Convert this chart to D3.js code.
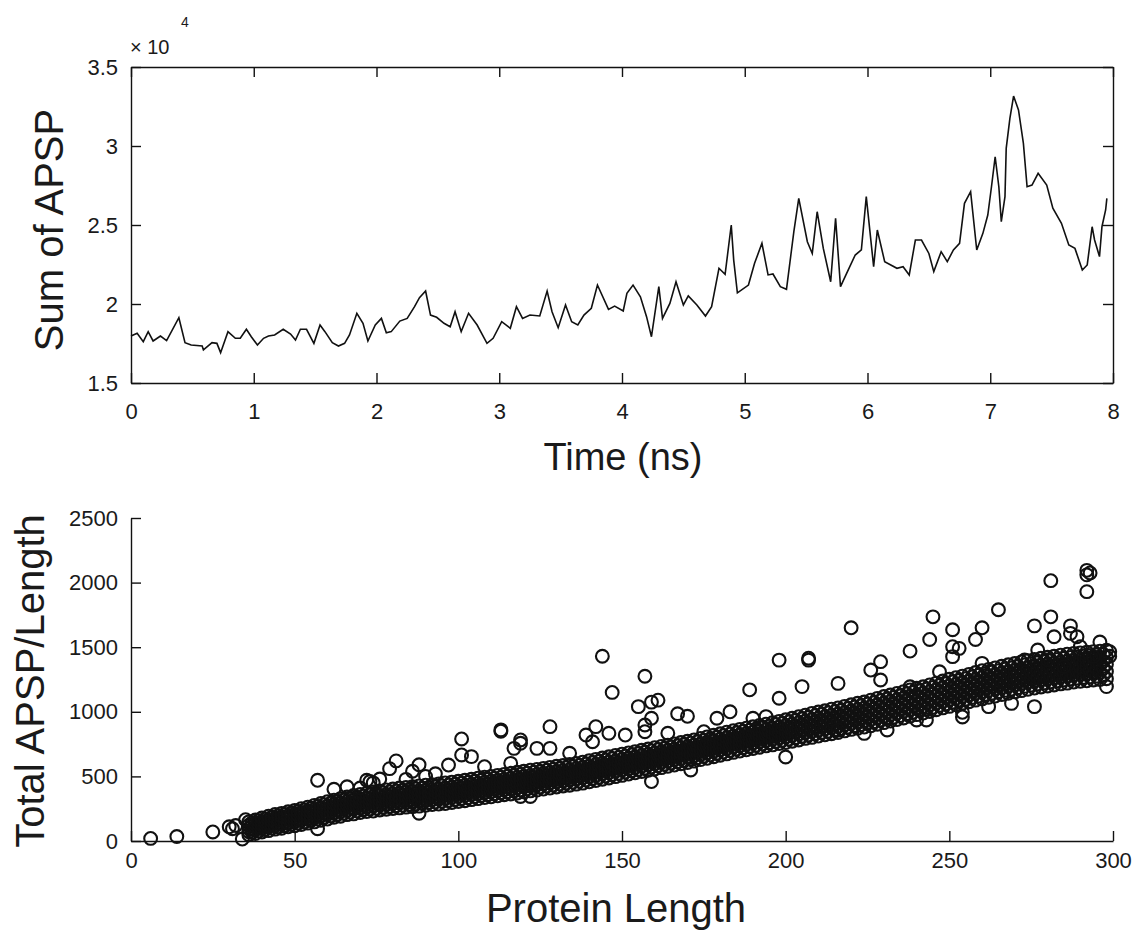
<!DOCTYPE html>
<html>
<head>
<meta charset="utf-8">
<script src="https://cdn.jsdelivr.net/npm/d3@7"></script>
<style>
body { margin: 0; background: #fff; }
text { font-family: "Liberation Sans", Arial, sans-serif; fill: #1a1a1a; }
</style>
</head>
<body>
<div class="chart"></div>
<script>
// top panel: sum of APSP over time
const timeNs = [0.00,0.05,0.10,0.14,0.18,0.24,0.29,0.39,0.44,0.49,0.58,0.59,0.66,0.70,0.73,0.79,0.85,0.89,0.94,0.98,
  1.03,1.08,1.12,1.17,1.24,1.30,1.34,1.38,1.43,1.49,1.54,1.58,1.64,1.69,1.74,1.78,1.84,1.89,1.93,1.99,
  2.04,2.08,2.12,2.19,2.25,2.31,2.35,2.40,2.44,2.49,2.55,2.60,2.64,2.69,2.75,2.82,2.90,2.95,3.02,3.09,
  3.14,3.19,3.25,3.33,3.39,3.43,3.48,3.54,3.59,3.64,3.69,3.75,3.80,3.89,3.94,4.01,4.04,4.09,4.15,4.20,
  4.24,4.30,4.33,4.39,4.44,4.50,4.54,4.61,4.68,4.73,4.79,4.84,4.89,4.91,4.94,5.03,5.08,5.14,5.19,5.23,
  5.29,5.34,5.40,5.44,5.51,5.55,5.59,5.64,5.70,5.74,5.78,5.83,5.90,5.95,5.99,6.05,6.08,6.14,6.24,6.29,
  6.34,6.39,6.44,6.50,6.54,6.60,6.65,6.70,6.75,6.79,6.84,6.89,6.94,6.98,7.01,7.04,7.07,7.09,7.12,7.13,
  7.16,7.19,7.23,7.27,7.30,7.34,7.39,7.46,7.51,7.58,7.64,7.69,7.75,7.79,7.83,7.85,7.89,7.91,7.94,7.95];
const apspSum = [17970,18150,17620,18250,17660,17970,17680,19130,17550,17400,17340,17090,17550,17510,16920,18250,17830,17830,18400,17930,
  17400,17830,17970,18040,18400,18100,17720,18400,18400,17510,18670,18250,17550,17340,17510,18040,19410,18780,17660,18670,
  19090,18180,18250,18920,19090,19830,20400,20820,19300,19160,18780,18560,19510,18250,19410,18670,17510,17830,18880,18460,
  19830,19090,19300,19240,20820,19510,18500,19940,18880,18670,19300,19730,21200,19660,19870,19560,20680,21200,20460,19200,
  17930,21100,19090,20040,21410,19940,20510,19940,19240,19830,22260,21880,25000,22780,20710,21200,22580,23840,21840,21900,
  21100,20930,24580,26690,23940,23200,25840,23520,21410,25420,21100,21940,23100,23420,26800,22360,24680,22680,22260,22360,
  21840,24050,24050,23200,22050,23310,22680,23420,23840,26370,27110,23420,24470,25630,27420,29320,27420,25210,26800,29850,
  31750,33160,32280,30170,27420,27530,28270,27530,26060,25110,23730,23520,22150,22470,24890,24050,23000,24890,25950,26690];
const timeTicks = [0, 1, 2, 3, 4, 5, 6, 7, 8];
const sumTicks = [15000, 20000, 25000, 30000, 35000];

// bottom panel: total APSP / length against protein length
// dense band, one row per protein length: [length, values...]
const bandColumns = [
  [36,48,72,96,122,148],[37,66,91,117,142],[38,58,88,110,136,162],[39,77,104,130,157],
  [40,70,96,124,150,178],[41,89,116,144,171],[42,80,110,136,164,192],[43,100,128,156,184],
  [44,92,118,150,176,205],[45,109,138,167,195],[46,98,130,158,188,214],[47,118,148,177,206],
  [48,110,138,172,196,226],[49,129,158,187,216],[50,118,150,178,208,236],[51,138,168,198,228],
  [52,128,158,192,220,250],[53,148,179,210,241],[54,138,172,202,232,262],[55,159,190,222,253],
  [56,148,180,216,244,276],[57,170,202,235,267],[58,160,194,226,258,290],[59,182,215,248,281],
  [60,170,206,240,270,304],[61,194,227,260,293],[62,184,216,254,284,316],[63,205,238,272,305],
  [64,192,228,262,296,328],[65,215,249,283,317],[66,204,236,276,306,340],[67,224,259,294,329],
  [68,210,248,282,318,352],[69,233,268,303,338],[70,220,254,292,326,360],[71,242,277,312,347],
  [72,228,262,300,336,370],[73,248,284,321,357],[74,232,272,310,344,380],[75,254,291,328,365],
  [76,240,278,316,352,388],[77,262,299,336,373],[78,246,282,322,360,396],[79,268,305,343,380],
  [80,252,290,330,366,402],[81,273,311,349,387],[82,256,296,334,372,410],[83,278,316,355,393],
  [84,262,298,340,378,414],[85,283,321,360,398],[86,266,304,344,384,420],[87,287,326,365,404],
  [88,270,310,350,388,426],[89,292,331,370,409],[90,276,314,354,394,432],[91,298,337,376,415],
  [92,282,320,360,398,436],[93,303,342,381,420],[94,286,326,364,404,442],[95,308,347,387,426],
  [96,290,330,370,410,450],[97,314,354,393,433],[98,298,338,378,416,456],[99,322,361,400,439],
  [100,306,346,384,424,462],[101,329,368,407,446],[102,312,352,392,430,470],[103,336,375,415,454],
  [104,320,360,400,438,478],[105,344,383,423,462],[106,328,366,408,446,486],[107,352,391,431,470],
  [108,336,374,414,454,494],[109,359,398,438,477],[110,342,382,422,462,500],[111,366,405,445,484],
  [112,350,390,430,468,508],[113,374,413,453,492],[114,358,398,438,476,516],[115,381,420,460,500],
  [116,364,404,446,484,524],[117,388,428,468,508],[118,372,412,452,492,532],[119,396,436,476,516],
  [120,380,420,460,500,540],[121,404,444,484,524],[122,388,428,468,506,548],[123,411,451,491,531],
  [124,394,436,474,514,554],[125,418,458,498,538],[126,402,442,482,522,562],[127,426,466,506,546],
  [128,410,450,490,530,570],[129,434,474,514,554],[130,418,458,498,538,578],[131,442,482,521,561],
  [132,426,464,506,544,584],[133,449,489,528,568],[134,432,472,512,552,592],[135,456,496,536,576],
  [136,440,480,520,560,600],[137,464,504,545,585],[138,448,490,530,570,610],[139,473,514,555,596],
  [140,458,500,540,580,622],[141,484,525,566,607],[142,468,508,550,592,632],[143,494,535,576,617],
  [144,478,520,560,600,642],[145,504,545,586,627],[146,488,530,570,612,652],[147,514,555,596,637],
  [148,498,540,580,620,662],[149,524,565,606,647],[150,508,550,590,632,672],[151,534,575,616,657],
  [152,518,558,600,642,682],[153,544,585,626,667],[154,528,570,610,650,692],[155,554,595,636,677],
  [156,538,578,620,662,702],[157,564,605,646,687],[158,548,590,630,670,712],[159,574,615,656,697],
  [160,558,598,640,682,722],[161,584,625,666,707],[162,568,610,650,690,732],[163,594,635,676,717],
  [164,578,618,660,702,742],[165,604,645,686,727],[166,588,630,670,710,752],[167,614,655,696,737],
  [168,598,638,680,722,762],[169,624,665,706,747],[170,608,650,690,730,772],[171,634,675,716,757],
  [172,618,660,700,742,782],[173,645,686,727,768],[174,630,670,712,752,794],[175,656,697,738,779],
  [176,640,682,722,764,806],[177,667,708,750,791],[178,652,694,736,776,818],[179,679,720,762,803],
  [180,664,706,746,788,830],[181,690,732,774,815],[182,674,716,758,800,842],[183,701,743,785,827],
  [184,686,728,770,812,854],[185,712,754,796,838],[186,696,738,780,822,864],[187,722,764,806,848],
  [188,706,748,790,832,874],[189,732,774,816,858],[190,716,758,800,842,884],[191,742,784,826,868],
  [192,726,768,810,852,894],[193,752,794,836,878],[194,736,778,820,862,904],[195,761,804,846,889],
  [196,744,788,830,872,916],[197,771,814,857,900],[198,754,798,840,882,926],[199,780,823,867,910],
  [200,762,806,850,894,938],[201,789,833,878,922],[202,772,818,860,904,950],[203,799,844,889,934],
  [204,782,828,872,916,962],[205,811,856,901,946],[206,794,840,884,928,974],[207,821,866,912,958],
  [208,802,850,894,940,988],[209,830,877,923,970],[210,812,858,906,950,998],[211,840,887,933,980],
  [212,822,868,914,962,1008],[213,850,897,944,991],[214,830,878,924,972,1020],[215,859,906,954,1001],
  [216,840,888,936,982,1030],[217,870,917,965,1012],[218,852,898,946,994,1042],[219,882,929,977,1024],
  [220,864,912,960,1006,1054],[221,892,940,988,1036],[222,872,922,970,1018,1066],[223,901,950,998,1047],
  [224,882,930,980,1028,1076],[225,912,961,1010,1059],[226,892,942,992,1040,1090],[227,923,972,1022,1072],
  [228,904,954,1004,1054,1104],[229,935,985,1036,1086],[230,916,966,1018,1066,1118],[231,947,998,1048,1099],
  [232,928,978,1030,1080,1130],[233,959,1010,1060,1111],[234,940,990,1042,1092,1142],[235,971,1022,1073,1124],
  [236,952,1004,1054,1106,1156],[237,985,1036,1087,1138],[238,966,1016,1068,1118,1170],[239,998,1049,1100,1151],
  [240,978,1028,1080,1130,1182],[241,1010,1061,1112,1163],[242,990,1040,1092,1144,1194],[243,1022,1073,1124,1175],
  [244,1002,1054,1104,1156,1208],[245,1035,1086,1138,1189],[246,1016,1068,1120,1170,1222],[247,1049,1101,1152,1204],
  [248,1030,1082,1134,1186,1238],[249,1062,1114,1167,1219],[250,1042,1094,1148,1200,1252],[251,1074,1127,1179,1232],
  [252,1054,1106,1160,1212,1264],[253,1086,1139,1191,1244],[254,1066,1118,1172,1224,1276],[255,1098,1151,1204,1257],
  [256,1078,1132,1184,1238,1290],[257,1111,1164,1217,1270],[258,1090,1144,1198,1250,1304],[259,1122,1176,1230,1284],
  [260,1100,1156,1210,1264,1318],[261,1133,1187,1242,1296],[262,1112,1166,1220,1274,1328],[263,1144,1198,1253,1307],
  [264,1122,1178,1232,1286,1340],[265,1155,1210,1264,1319],[266,1134,1188,1244,1298,1352],[267,1166,1221,1276,1331],
  [268,1144,1200,1254,1310,1364],[269,1176,1231,1286,1341],[270,1154,1210,1266,1320,1374],[271,1187,1242,1297,1352],
  [272,1164,1220,1276,1330,1386],[273,1197,1252,1308,1363],[274,1174,1230,1286,1340,1396],[275,1207,1262,1318,1373],
  [276,1184,1240,1294,1350,1406],[277,1216,1271,1327,1382],[278,1192,1248,1304,1360,1414],[279,1224,1279,1335,1390],
  [280,1200,1256,1312,1368,1422],[281,1232,1287,1343,1398],[282,1208,1264,1320,1376,1430],[283,1240,1295,1351,1406],
  [284,1216,1272,1328,1382,1438],[285,1247,1303,1359,1414],[286,1222,1278,1334,1390,1446],[287,1254,1310,1366,1421],
  [288,1230,1286,1342,1396,1452],[289,1261,1316,1371,1426],[290,1236,1292,1346,1402,1456],[291,1266,1321,1376,1431],
  [292,1240,1296,1352,1406,1462],[293,1271,1326,1381,1436],[294,1246,1302,1356,1410,1466],[295,1276,1331,1386,1441],
  [296,1250,1306,1362,1416,1470],[297,1281,1336,1391,1446],[298,1256,1312,1368,1422,1476]
];
// scattered proteins off the band: [length, value]
const outlierPoints = [
  [6,20],[14,35],[25,70],[30,110],[31,95],[32,120],[34,15],[35,165],[57,470],[57,95],[72,470],[73,460],[74,450],
  [79,560],[81,620],[84,477],[88,590],[88,215],[97,588],[93,520],[66,420],[62,400],[70,410],[76,480],[90,500],[86,540],
  [144,1430],[157,1275],[147,1150],[189,1170],[155,1040],[159,1075],[161,1090],[159,950],[167,985],[170,965],
  [157,898],[157,846],[113,860],[113,850],[128,885],[101,790],[119,782],[117,717],[124,717],[128,717],[104,653],
  [101,666],[142,885],[139,820],[141,768],[146,834],[151,820],[179,950],[183,1000],[134,679],[116,601],[119,756],
  [108,575],[171,550],[159,460],[122,345],[119,345],[190,950],[194,963],[175,846],[164,834],
  [292,2095],[292,2060],[293,2075],[292,1930],[281,2015],[265,1790],[245,1735],[281,1735],[276,1665],[220,1650],
  [251,1635],[260,1650],[258,1560],[244,1560],[287,1665],[251,1504],[253,1491],[238,1470],[251,1427],[198,1400],
  [207,1415],[207,1400],[205,1195],[216,1220],[198,1105],[200,650],[276,1040],[298,1195],[296,1540],[299,1465],
  [299,1430],[282,1581],[287,1607],[289,1581],[260,1375],[247,1310],[273,1401],[277,1478],[226,1323],[229,1388],
  [229,1246],[238,1194],[254,960],[254,996],[231,859],[224,833],[240,937],[243,937],[262,1040],[269,1065],
  [216,859],[280,1401],[285,1349],[290,1504],[294,1427]
];
const lengthTicks = [0, 50, 100, 150, 200, 250, 300];
const ratioTicks = [0, 500, 1000, 1500, 2000, 2500];

const width = 1132, height = 933;
const ink = "#111";

const svg = d3.select(".chart").append("svg")
  .attr("width", width)
  .attr("height", height);

// ---- top panel ----
const x1 = d3.scaleLinear().domain([0, 8]).range([131, 1113]);
const y1 = d3.scaleLinear().domain([15000, 35000]).range([383, 67]);

function styleAxis(g, size) {
  g.selectAll("path.domain").attr("stroke", ink).attr("stroke-width", 1.4);
  g.selectAll(".tick line").attr("stroke", ink).attr("stroke-width", 1.4);
  g.selectAll("text").attr("font-size", size).attr("fill", ink)
    .attr("font-family", '"Liberation Sans", Arial, sans-serif');
}

svg.append("g").attr("transform", "translate(0,383)")
  .call(d3.axisBottom(x1).tickValues(timeTicks).tickSize(-10).tickSizeOuter(0).tickPadding(20))
  .call(g => styleAxis(g, 22));
svg.append("g").attr("transform", "translate(0,67)")
  .call(d3.axisTop(x1).tickValues(timeTicks).tickSize(-10).tickSizeOuter(0).tickFormat(""))
  .call(g => styleAxis(g, 22));
svg.append("g").attr("transform", "translate(131,0)")
  .call(d3.axisLeft(y1).tickValues(sumTicks).tickSize(-10).tickSizeOuter(0).tickPadding(13)
    .tickFormat(d => d / 1e4))
  .call(g => styleAxis(g, 22));
svg.append("g").attr("transform", "translate(1113,0)")
  .call(d3.axisRight(y1).tickValues(sumTicks).tickSize(-10).tickSizeOuter(0).tickFormat(""))
  .call(g => styleAxis(g, 22));

const series = timeNs.map((t, i) => [t, apspSum[i]]);
svg.append("path")
  .datum(series)
  .attr("fill", "none")
  .attr("stroke", ink)
  .attr("stroke-width", 1.6)
  .attr("d", d3.line().x(d => x1(d[0])).y(d => y1(d[1])));

// exponent label
svg.append("text").attr("x", 130).attr("y", 54).attr("font-size", 20).text("\u00d7 10");
svg.append("text").attr("x", 181).attr("y", 27).attr("font-size", 14).text("4");

svg.append("text")
  .attr("x", 623).attr("y", 470)
  .attr("text-anchor", "middle")
  .attr("font-size", 38)
  .text("Time (ns)");
svg.append("text")
  .attr("transform", "translate(63,230) rotate(-90)")
  .attr("text-anchor", "middle")
  .attr("font-size", 40)
  .text("Sum of APSP");

// ---- bottom panel ----
const x2 = d3.scaleLinear().domain([0, 300]).range([131, 1113]);
const y2 = d3.scaleLinear().domain([0, 2500]).range([841, 518]);

svg.append("g").attr("transform", "translate(0,841)")
  .call(d3.axisBottom(x2).tickValues(lengthTicks).tickSize(-10).tickSizeOuter(0).tickPadding(11)
    .tickFormat(d3.format("d")))
  .call(g => styleAxis(g, 22));
svg.append("g").attr("transform", "translate(131,0)")
  .call(d3.axisLeft(y2).tickValues(ratioTicks).tickSize(-10).tickSizeOuter(0).tickPadding(13)
    .tickFormat(d3.format("d")))
  .call(g => styleAxis(g, 22));

const points = [];
bandColumns.forEach(col => col.slice(1).forEach(v => points.push([col[0], v])));
outlierPoints.forEach(p => points.push(p));

svg.append("g")
  .selectAll("circle")
  .data(points)
  .enter()
  .append("circle")
  .attr("cx", d => x2(d[0]))
  .attr("cy", d => y2(d[1]))
  .attr("r", 6.4)
  .attr("fill", "none")
  .attr("stroke", ink)
  .attr("stroke-width", 2.1);

svg.append("text")
  .attr("x", 616).attr("y", 922)
  .attr("text-anchor", "middle")
  .attr("font-size", 40)
  .text("Protein Length");
svg.append("text")
  .attr("transform", "translate(44,681) rotate(-90)")
  .attr("text-anchor", "middle")
  .attr("font-size", 40)
  .text("Total APSP/Length");
</script>
</body>
</html>
